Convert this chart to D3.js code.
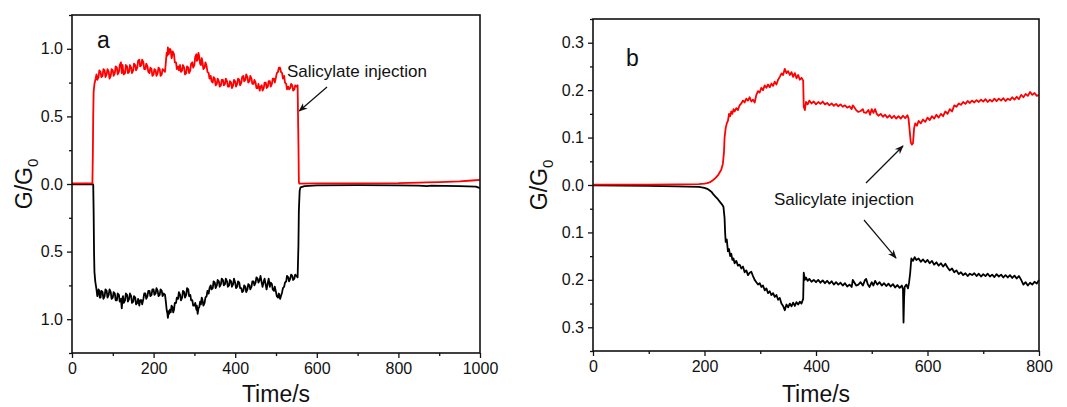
<!DOCTYPE html>
<html lang="en">
<head>
    <meta charset="UTF-8">
    <title>G/G0 vs time, salicylate injection</title>
    <script src="https://d3js.org/d3.v7.min.js"></script>
    <style>
        body { margin: 0; background: #fff; }
        text { font-family: Arial, "Liberation Sans", sans-serif; fill: #111; }
    </style>
</head>
<body>
    <svg width="1067" height="407"></svg>

    <script>
        // ---- panel a data: [time s, G/G0] ----
        const redA = [
            [0,0.005],[50,0.005],[51,0.2],[52,0.5],[53,0.68],[55,0.74],[58,0.78],
            [60,0.81],[62,0.77],[65,0.79],[67,0.84],[70,0.83],[72,0.79],[75,0.80],[77,0.85],
            [80,0.84],[82,0.79],[85,0.81],[87,0.85],[90,0.83],[92,0.78],[95,0.80],[97,0.85],
            [100,0.84],[102,0.80],[105,0.82],[107,0.87],[110,0.86],[112,0.81],[115,0.83],[117,0.88],
            [120,0.90],[122,0.82],[124,0.88],[125,0.85],[127,0.81],[130,0.82],[132,0.88],[135,0.87],
            [137,0.82],[140,0.83],[142,0.88],[145,0.86],[147,0.82],[150,0.84],[152,0.89],[155,0.88],
            [157,0.84],[160,0.86],[162,0.91],[165,0.92],[167,0.87],[170,0.88],[172,0.92],[175,0.90],
            [177,0.85],[180,0.85],[182,0.89],[185,0.87],[187,0.83],[190,0.82],[192,0.86],[195,0.85],
            [197,0.80],[200,0.81],[202,0.85],[205,0.84],[207,0.80],[210,0.82],[212,0.86],[215,0.85],
            [217,0.80],[220,0.81],[222,0.85],[225,0.84],[228,0.83],[230,0.90],[232,0.97],[234,0.95],
            [235,1.01],[237,0.96],[238,0.97],[240,1.0],[242,0.99],[244,0.93],[245,0.94],[247,0.98],
            [250,0.96],[252,0.90],[255,0.90],[257,0.85],[260,0.87],[262,0.84],[265,0.88],[267,0.83],
            [270,0.84],[272,0.88],[275,0.86],[277,0.81],[280,0.82],[282,0.87],[285,0.86],[287,0.82],
            [290,0.84],[292,0.89],[295,0.90],[297,0.86],[300,0.88],[302,0.94],[305,0.96],[306,0.91],
            [308,0.92],[310,0.97],[312,0.94],[314,0.89],[316,0.88],[318,0.93],[320,0.90],[322,0.85],
            [325,0.86],[327,0.90],[330,0.87],[332,0.83],[335,0.82],[337,0.78],[340,0.80],[342,0.76],
            [345,0.75],[347,0.79],[350,0.78],[352,0.73],[355,0.74],[357,0.78],[360,0.76],[362,0.72],
            [365,0.73],[367,0.77],[370,0.77],[372,0.73],[375,0.74],[377,0.78],[380,0.76],[382,0.72],
            [385,0.72],[387,0.76],[390,0.75],[392,0.71],[395,0.73],[397,0.77],[400,0.76],[402,0.72],
            [405,0.74],[407,0.78],[410,0.77],[412,0.73],[415,0.75],[417,0.79],[420,0.80],[422,0.76],
            [425,0.77],[427,0.81],[430,0.79],[432,0.75],[435,0.76],[437,0.80],[440,0.78],[442,0.74],
            [445,0.74],[447,0.77],[450,0.75],[452,0.71],[455,0.71],[457,0.74],[460,0.69],[462,0.72],
            [465,0.73],[467,0.69],[470,0.71],[472,0.75],[475,0.75],[477,0.71],[480,0.72],[482,0.76],
            [485,0.76],[487,0.72],[490,0.74],[492,0.78],[495,0.78],[497,0.75],[500,0.79],[502,0.82],
            [505,0.83],[507,0.86],[510,0.86],[512,0.83],[515,0.82],[517,0.78],[520,0.80],[522,0.75],
            [525,0.74],[527,0.70],[530,0.72],[532,0.70],[535,0.71],[537,0.74],[540,0.73],[542,0.69],
            [545,0.70],[547,0.73],[550,0.72],[553,0.73],
            [554,0.5],[555,0.3],[556,0.02],[557,0.003],[600,0.004],[700,0.005],[800,0.006],
            [850,0.01],[870,0.012],[900,0.014],[950,0.02],[980,0.026],[1000,0.03]
        ];
        const blackA = [
            [0,-0.003],[52,-0.003],[53,-0.2],[54,-0.5],[55,-0.65],[57,-0.72],
            [60,-0.78],[62,-0.83],[63,-0.82],[65,-0.78],[67,-0.79],[68,-0.84],[70,-0.84],[72,-0.79],
            [75,-0.80],[77,-0.85],[80,-0.83],[82,-0.78],[85,-0.79],[87,-0.84],[90,-0.82],[92,-0.78],
            [95,-0.80],[97,-0.85],[100,-0.84],[102,-0.80],[105,-0.81],[107,-0.86],[110,-0.86],[112,-0.81],
            [115,-0.82],[117,-0.87],[120,-0.85],[122,-0.92],[124,-0.84],[125,-0.83],[127,-0.88],[130,-0.86],
            [132,-0.81],[135,-0.82],[137,-0.87],[140,-0.85],[142,-0.81],[145,-0.83],[147,-0.88],[150,-0.87],
            [152,-0.83],[155,-0.84],[157,-0.89],[160,-0.88],[162,-0.85],[165,-0.90],[167,-0.86],[170,-0.86],
            [172,-0.89],[175,-0.85],[177,-0.81],[180,-0.81],[182,-0.85],[185,-0.83],[187,-0.79],[190,-0.79],
            [192,-0.83],[195,-0.82],[197,-0.78],[200,-0.78],[202,-0.82],[205,-0.81],[207,-0.77],[210,-0.79],
            [212,-0.83],[215,-0.82],[217,-0.78],[220,-0.79],[222,-0.83],[225,-0.81],[228,-0.82],[230,-0.87],
            [232,-0.93],[234,-0.96],[235,-0.99],[237,-0.94],[238,-0.96],[240,-0.93],[242,-0.95],[244,-0.90],
            [246,-0.91],[248,-0.95],[250,-0.93],[252,-0.88],[255,-0.88],[257,-0.84],[260,-0.85],[262,-0.80],
            [265,-0.82],[267,-0.86],[270,-0.84],[272,-0.79],[275,-0.80],[277,-0.84],[280,-0.82],[282,-0.77],
            [285,-0.78],[287,-0.83],[290,-0.82],[292,-0.86],[295,-0.86],[297,-0.90],[300,-0.90],[302,-0.88],
            [305,-0.93],[306,-0.90],[308,-0.96],[310,-0.92],[312,-0.91],[314,-0.87],[316,-0.89],[318,-0.84],
            [320,-0.86],[322,-0.90],[325,-0.88],[327,-0.84],[330,-0.83],[332,-0.79],[335,-0.81],[337,-0.77],
            [340,-0.75],[342,-0.78],[345,-0.77],[347,-0.72],[350,-0.73],[352,-0.77],[355,-0.75],[357,-0.71],
            [360,-0.72],[362,-0.76],[365,-0.74],[367,-0.70],[370,-0.71],[372,-0.75],[375,-0.74],[377,-0.70],
            [380,-0.72],[382,-0.76],[385,-0.75],[387,-0.71],[390,-0.72],[392,-0.76],[395,-0.74],[397,-0.70],
            [400,-0.73],[402,-0.77],[405,-0.76],[407,-0.72],[410,-0.73],[412,-0.77],[415,-0.77],[417,-0.80],
            [420,-0.79],[422,-0.75],[425,-0.76],[427,-0.80],[430,-0.78],[432,-0.74],[435,-0.75],[437,-0.78],
            [440,-0.76],[442,-0.72],[445,-0.72],[447,-0.75],[450,-0.73],[452,-0.69],[455,-0.70],[457,-0.73],
            [460,-0.71],[462,-0.68],[465,-0.73],[467,-0.76],[470,-0.72],[472,-0.70],[475,-0.75],[477,-0.78],
            [480,-0.73],[482,-0.70],[485,-0.76],[487,-0.73],[490,-0.74],[492,-0.78],[495,-0.79],[497,-0.76],
            [500,-0.80],[502,-0.83],[505,-0.84],[507,-0.81],[510,-0.85],[512,-0.83],[515,-0.80],[517,-0.77],
            [520,-0.76],[522,-0.73],[525,-0.72],[527,-0.68],[530,-0.69],[532,-0.72],[535,-0.70],[537,-0.67],
            [540,-0.68],[542,-0.71],[545,-0.70],[547,-0.67],[550,-0.68],[553,-0.69],
            [555,-0.45],[556,-0.2],[558,-0.05],[560,-0.025],[570,-0.015],[600,-0.01],[700,-0.009],
            [800,-0.010],[850,-0.012],[870,-0.015],[880,-0.012],[950,-0.016],[990,-0.02],[1000,-0.03]
        ];

        // ---- panel b data ----
        const redB = [
            [0,0.001],[100,0.001],[150,0.0015],[190,0.002],[200,0.003],[205,0.004],[210,0.006],
            [215,0.01],[220,0.015],[225,0.022],[230,0.032],[233,0.045],[235,0.07],[236,0.1],
            [238,0.12],[240,0.13],[242,0.135],[244,0.15],[246,0.145],[248,0.155],[250,0.15],
            [252,0.16],[254,0.155],[257,0.162],[260,0.158],[263,0.168],[266,0.172],[269,0.178],
            [272,0.174],[275,0.182],[278,0.178],[281,0.185],[284,0.176],[287,0.18],[290,0.174],
            [293,0.19],[296,0.198],[299,0.195],[302,0.205],[305,0.2],[308,0.21],[311,0.205],
            [314,0.212],[317,0.206],[320,0.214],[323,0.209],[326,0.218],[329,0.212],[332,0.222],
            [335,0.228],[338,0.235],[341,0.232],[344,0.245],[347,0.236],[350,0.24],[353,0.232],
            [356,0.238],[359,0.228],[362,0.236],[365,0.225],[368,0.232],[371,0.222],[374,0.226],
            [377,0.22],[378,0.165],[380,0.158],[382,0.175],[385,0.17],[388,0.178],[392,0.172],
            [396,0.176],[400,0.17],[404,0.175],[408,0.171],[412,0.176],[416,0.17],[420,0.173],
            [424,0.168],[428,0.172],[432,0.167],[436,0.171],[440,0.166],[444,0.17],[448,0.165],
            [452,0.168],[456,0.163],[460,0.166],[464,0.16],[466,0.168],[468,0.165],[472,0.158],
            [476,0.154],[480,0.156],[484,0.16],[486,0.153],[490,0.152],[494,0.158],[497,0.148],
            [500,0.16],[503,0.152],[506,0.16],[509,0.15],[512,0.146],[516,0.15],[520,0.144],
            [524,0.148],[528,0.142],[532,0.147],[536,0.141],[540,0.146],[544,0.14],[548,0.145],
            [552,0.14],[556,0.146],[560,0.141],[564,0.147],[566,0.14],[568,0.115],[570,0.09],
            [572,0.085],[574,0.088],[576,0.12],[578,0.13],[581,0.125],[584,0.135],[588,0.13],
            [592,0.138],[596,0.133],[600,0.142],[604,0.137],[608,0.145],[612,0.14],[616,0.148],
            [620,0.142],[624,0.15],[628,0.145],[632,0.155],[636,0.15],[640,0.16],[644,0.155],
            [648,0.168],[652,0.165],[656,0.172],[660,0.169],[664,0.175],[668,0.171],[672,0.177],
            [676,0.173],[680,0.178],[684,0.174],[688,0.179],[692,0.175],[696,0.18],[700,0.176],
            [704,0.181],[708,0.175],[712,0.18],[716,0.176],[720,0.182],[724,0.177],[728,0.182],
            [732,0.178],[736,0.183],[740,0.177],[744,0.182],[748,0.179],[752,0.185],[756,0.18],
            [760,0.186],[764,0.181],[768,0.19],[772,0.185],[776,0.192],[780,0.188],[784,0.196],
            [788,0.19],[792,0.194],[796,0.188],[800,0.19]
        ];
        const blackB = [
            [0,-0.001],[100,-0.002],[150,-0.003],[190,-0.004],[200,-0.006],[205,-0.008],[210,-0.012],
            [213,-0.015],[216,-0.02],[220,-0.025],[224,-0.03],[228,-0.036],[232,-0.042],[234,-0.046],
            [236,-0.07],[237,-0.1],[238,-0.12],[240,-0.115],[242,-0.14],[244,-0.135],[246,-0.15],
            [248,-0.145],[250,-0.158],[252,-0.155],[254,-0.165],[257,-0.16],[260,-0.17],[263,-0.168],
            [266,-0.176],[269,-0.172],[272,-0.184],[275,-0.18],[278,-0.19],[281,-0.185],[284,-0.183],
            [287,-0.192],[290,-0.2],[293,-0.205],[296,-0.21],[299,-0.207],[302,-0.215],[305,-0.212],
            [308,-0.222],[311,-0.218],[314,-0.228],[317,-0.224],[320,-0.232],[323,-0.228],[326,-0.236],
            [329,-0.232],[332,-0.242],[335,-0.238],[338,-0.25],[341,-0.255],[344,-0.264],[347,-0.252],
            [350,-0.258],[353,-0.25],[356,-0.256],[359,-0.248],[362,-0.255],[365,-0.247],[368,-0.252],
            [371,-0.246],[374,-0.25],[377,-0.24],[378,-0.185],[380,-0.2],[382,-0.195],[385,-0.202],
            [388,-0.198],[392,-0.204],[396,-0.2],[400,-0.205],[404,-0.2],[408,-0.206],[412,-0.201],
            [416,-0.207],[420,-0.202],[424,-0.208],[428,-0.203],[432,-0.21],[436,-0.205],[440,-0.21],
            [444,-0.206],[448,-0.212],[452,-0.207],[456,-0.214],[460,-0.21],[464,-0.215],[466,-0.2],
            [468,-0.204],[472,-0.212],[476,-0.21],[480,-0.205],[484,-0.212],[488,-0.2],[490,-0.198],
            [493,-0.21],[496,-0.215],[500,-0.205],[503,-0.212],[506,-0.202],[510,-0.21],[514,-0.205],
            [518,-0.212],[522,-0.207],[526,-0.213],[530,-0.208],[534,-0.214],[538,-0.209],[542,-0.216],
            [546,-0.211],[550,-0.217],[554,-0.212],[556,-0.22],[557,-0.29],[558,-0.24],[559,-0.215],
            [562,-0.21],[565,-0.218],[567,-0.205],[569,-0.185],[571,-0.155],[574,-0.16],[577,-0.152],
            [580,-0.158],[584,-0.155],[588,-0.162],[592,-0.157],[596,-0.163],[600,-0.158],[604,-0.165],
            [608,-0.16],[612,-0.168],[616,-0.163],[620,-0.17],[624,-0.165],[628,-0.172],[632,-0.166],
            [636,-0.174],[640,-0.18],[644,-0.176],[648,-0.184],[652,-0.18],[656,-0.188],[660,-0.184],
            [664,-0.19],[668,-0.186],[672,-0.192],[676,-0.187],[680,-0.19],[684,-0.186],[688,-0.192],
            [692,-0.187],[696,-0.193],[700,-0.188],[704,-0.192],[708,-0.187],[712,-0.193],[716,-0.189],
            [720,-0.194],[724,-0.188],[728,-0.193],[732,-0.189],[736,-0.195],[740,-0.19],[744,-0.195],
            [748,-0.19],[752,-0.196],[756,-0.191],[760,-0.197],[764,-0.192],[768,-0.2],[772,-0.21],
            [776,-0.205],[780,-0.212],[784,-0.206],[788,-0.21],[792,-0.204],[796,-0.208],[800,-0.2]
        ];

        // ---- ticks ----
        const xTicksA = [0, 200, 400, 600, 800, 1000];
        const xMinorA = [100, 300, 500, 700, 900];
        const yTicksA = [-1.0, -0.5, 0.0, 0.5, 1.0];
        const yMinorA = [-1.25, -0.75, -0.25, 0.25, 0.75, 1.25];
        const xTicksB = [0, 200, 400, 600, 800];
        const xMinorB = [100, 300, 500, 700];
        const yTicksB = [-0.3, -0.2, -0.1, 0.0, 0.1, 0.2, 0.3];
        const yMinorB = [-0.35, -0.25, -0.15, -0.05, 0.05, 0.15, 0.25, 0.35];

        const svg = d3.select("svg");
        const fmt = d => d3.format(".1f")(Math.abs(d));

        // arrow marker
        svg.append("defs").append("marker")
            .attr("id", "arr")
            .attr("viewBox", "0 0 10 10")
            .attr("refX", 9).attr("refY", 5)
            .attr("markerWidth", 9).attr("markerHeight", 9)
            .attr("markerUnits", "userSpaceOnUse")
            .attr("orient", "auto")
            .append("path")
            .attr("d", "M0,1 L10,5 L0,9 L3,5 Z")
            .attr("fill", "#111");

        function panel(opt) {
            const x = d3.scaleLinear().domain(opt.xDomain).range(opt.xRange);
            const y = d3.scaleLinear().domain(opt.yDomain).range(opt.yRange);
            const g = svg.append("g");

            // minor ticks
            g.append("g")
                .attr("transform", `translate(0,${opt.yRange[0]})`)
                .call(d3.axisBottom(x).tickValues(opt.xMinor).tickSize(3).tickFormat(""))
                .call(a => a.select(".domain").remove());
            g.append("g")
                .attr("transform", `translate(${opt.xRange[0]},0)`)
                .call(d3.axisLeft(y).tickValues(opt.yMinor).tickSize(3).tickFormat(""))
                .call(a => a.select(".domain").remove());

            // major ticks
            g.append("g")
                .attr("transform", `translate(0,${opt.yRange[0]})`)
                .call(d3.axisBottom(x).tickValues(opt.xTicks).tickSize(5).tickPadding(5).tickFormat(d3.format("d")))
                .call(a => a.select(".domain").remove());
            g.append("g")
                .attr("transform", `translate(${opt.xRange[0]},0)`)
                .call(d3.axisLeft(y).tickValues(opt.yTicks).tickSize(5).tickPadding(4).tickFormat(fmt))
                .call(a => a.select(".domain").remove());

            g.selectAll(".tick line").attr("stroke", "#111").attr("stroke-width", 1.3);
            g.selectAll(".tick text").attr("fill", "#111")
                .style("font-family", "Arial, 'Liberation Sans', sans-serif")
                .style("font-size", "16px");

            // data lines
            const line = d3.line().x(d => x(d[0])).y(d => y(d[1]));
            g.append("path").datum(opt.black)
                .attr("fill", "none").attr("stroke", "#000").attr("stroke-width", 1.8)
                .attr("stroke-linejoin", "round").attr("d", line);
            g.append("path").datum(opt.red)
                .attr("fill", "none").attr("stroke", "#ff0000").attr("stroke-width", 1.8)
                .attr("stroke-linejoin", "round").attr("d", line);

            // frame
            g.append("rect")
                .attr("x", opt.xRange[0]).attr("y", opt.yRange[1])
                .attr("width", opt.xRange[1] - opt.xRange[0])
                .attr("height", opt.yRange[0] - opt.yRange[1])
                .attr("fill", "none").attr("stroke", "#111").attr("stroke-width", 1.6);

            // axis titles
            g.append("text")
                .attr("x", (opt.xRange[0] + opt.xRange[1]) / 2)
                .attr("y", 402)
                .attr("text-anchor", "middle")
                .style("font-size", "23px")
                .text("Time/s");

            const yt = g.append("text")
                .attr("transform", `translate(${opt.yTitleX},${(opt.yRange[0] + opt.yRange[1]) / 2}) rotate(-90)`)
                .attr("text-anchor", "middle")
                .style("font-size", "23px");
            yt.append("tspan").text("G/G");
            yt.append("tspan").attr("dy", 6).style("font-size", "15px").text("0");

            // panel letter
            g.append("text")
                .attr("x", opt.letterPos[0]).attr("y", opt.letterPos[1])
                .style("font-size", "23px")
                .text(opt.letter);

            return { g, x, y };
        }

        const pa = panel({
            xDomain: [0, 1000], xRange: [72, 480],
            yDomain: [-1.25, 1.25], yRange: [353, 15],
            xTicks: xTicksA, xMinor: xMinorA, yTicks: yTicksA, yMinor: yMinorA,
            red: redA, black: blackA,
            yTitleX: 32, letter: "a", letterPos: [97, 48]
        });

        const pb = panel({
            xDomain: [0, 800], xRange: [593, 1039],
            yDomain: [-0.35, 0.35], yRange: [351, 19],
            xTicks: xTicksB, xMinor: xMinorB, yTicks: yTicksB, yMinor: yMinorB,
            red: redB, black: blackB,
            yTitleX: 547, letter: "b", letterPos: [626, 66]
        });

        // annotations
        pa.g.append("text")
            .attr("x", 287).attr("y", 77)
            .style("font-size", "17px")
            .text("Salicylate injection");
        pa.g.append("line")
            .attr("x1", 327).attr("y1", 87)
            .attr("x2", pa.x(557)).attr("y2", pa.y(0.54))
            .attr("stroke", "#111").attr("stroke-width", 1.2)
            .attr("marker-end", "url(#arr)");

        pb.g.append("text")
            .attr("x", 774).attr("y", 205)
            .style("font-size", "17px")
            .text("Salicylate injection");
        pb.g.append("line")
            .attr("x1", 866).attr("y1", 183)
            .attr("x2", 903).attr("y2", 146)
            .attr("stroke", "#111").attr("stroke-width", 1.2)
            .attr("marker-end", "url(#arr)");
        pb.g.append("line")
            .attr("x1", 864).attr("y1", 220)
            .attr("x2", 896).attr("y2", 258)
            .attr("stroke", "#111").attr("stroke-width", 1.2)
            .attr("marker-end", "url(#arr)");
    </script>
</body>
</html>
